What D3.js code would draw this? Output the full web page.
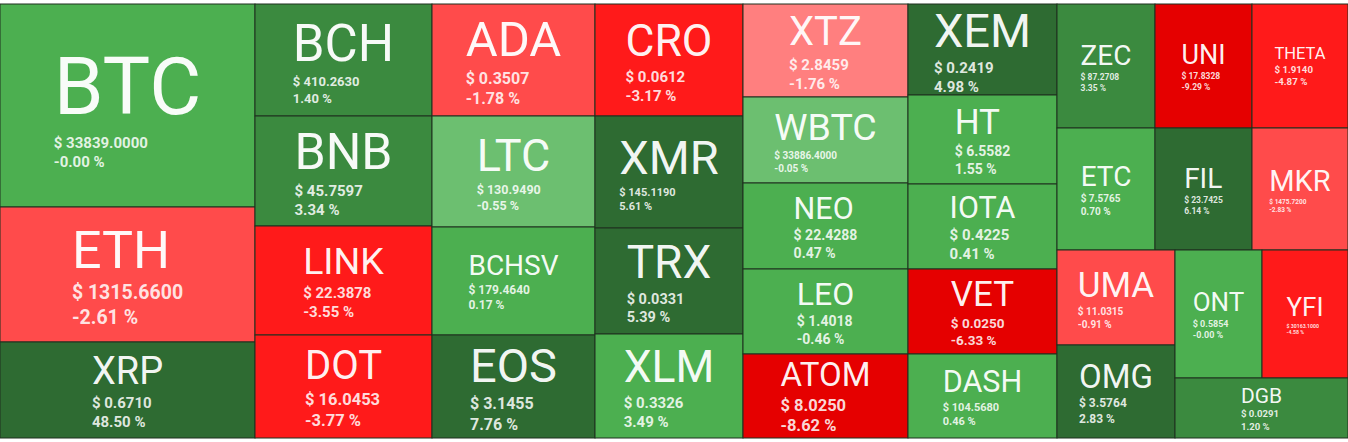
<!DOCTYPE html>
<html><head><meta charset="utf-8">
<script src="https://cdn.jsdelivr.net/npm/d3@7"></script>
<style>
html,body{margin:0;padding:0;background:#fff;}
svg{display:block;font-family:Roboto,"Noto Sans",sans-serif;}
</style>
</head><body>
<svg id="chart" width="1348" height="442"></svg>
<script>
// ---- data ----
const symbols = ["BTC","ETH","XRP","BCH","BNB","LINK","DOT","ADA","LTC","BCHSV","EOS","CRO","XMR","TRX","XLM",
  "XTZ","WBTC","NEO","LEO","ATOM","XEM","HT","IOTA","VET","DASH","ZEC","UNI","THETA","ETC","FIL","MKR","UMA","OMG","ONT","YFI","DGB"];
const prices = [33839.0, 1315.66, 0.6710, 410.2630, 45.7597, 22.3878, 16.0453, 0.3507, 130.9490, 179.4640, 3.1455, 0.0612, 145.1190, 0.0331, 0.3326,
  2.8459, 33886.4, 22.4288, 1.4018, 8.0250, 0.2419, 6.5582, 0.4225, 0.0250, 104.5680, 87.2708, 17.8328, 1.9140, 7.5765, 23.7425, 1475.72, 11.0315, 3.5764, 0.5854, 30163.1, 0.0291];
const changes = [-0.004, -2.61, 48.50, 1.40, 3.34, -3.55, -3.77, -1.78, -0.55, 0.17, 7.76, -3.17, 5.61, 5.39, 3.49,
  -1.76, -0.05, 0.47, -0.46, -8.62, 4.98, 1.55, 0.41, -6.33, 0.46, 3.35, -9.29, -4.87, 0.70, 6.14, -2.83, -0.91, 2.83, -0.004, -4.58, 1.20];
const tones = ["g1","r1","g3","g2","g2","r2","r2","r1","g0","g1","g3","r2","g3","g3","g1",
  "r0","g0","g1","g1","r3","g3","g1","g1","r3","g1","g2","r3","r2","g1","g3","r1","r1","g3","g1","r2","g2"];
// tile weights (relative areas)
const weights = [51765, 34425, 24480, 19824, 19470, 19293, 18231, 18256, 18093, 17604, 16789, 16576, 16576, 15688, 15392,
  15345, 14190, 14190, 14025, 13860, 13559, 13261, 12665, 12665, 12516, 12152, 12028, 11904, 11956, 11834, 11712, 11210, 10974, 11136, 11008, 10380];
// nesting of the tiles (columns, then rows, alternating)
const groups = [
  ["BTC","ETH","XRP"],
  ["BCH","BNB","LINK","DOT"],
  ["ADA","LTC","BCHSV","EOS"],
  ["CRO","XMR","TRX","XLM"],
  ["XTZ","WBTC","NEO","LEO","ATOM"],
  ["XEM","HT","IOTA","VET","DASH"],
  [["ZEC","UNI","THETA"],["ETC","FIL","MKR"],[["UMA","OMG"],[["ONT","YFI"],"DGB"]]]
];

// ---- styles ----
const toneColor = d3.scaleOrdinal()
  .domain(["g3","g2","g1","g0","r0","r1","r2","r3"])
  .range(["#2e6b32","#3b8a3f","#4caf50","#6cbf70","#ff7f7f","#ff4b4b","#ff1a1a","#e50000"]);
// [symbol font size, detail font size]
const labelSizes = {
  BTC:[80,15], ETH:[52,19.5], XRP:[38,15], BCH:[51,13], BNB:[50,15], LINK:[37.5,15], DOT:[40,16.5],
  ADA:[49,16], LTC:[45,12.5], BCHSV:[28,12], EOS:[47,16], CRO:[44.5,15], XMR:[47,11], TRX:[46,14.5], XLM:[44.5,15],
  XTZ:[40,15], WBTC:[37.5,10], NEO:[30.5,14], LEO:[32,14], ATOM:[33,16.5], XEM:[47,15], HT:[35,14], IOTA:[30.5,15],
  VET:[35,13.5], DASH:[30.5,11], ZEC:[28,8.5], UNI:[27,8.5], THETA:[16.5,9.7], ETC:[28,10], FIL:[28,8.5], MKR:[29,6.5],
  UMA:[35,10], OMG:[33,12], ONT:[26,9], YFI:[26,5.2], DGB:[21,9.6]
};

const chartW = 1348, chartH = 434, marginTop = 4;
const svg = d3.select("#chart");

function build(item) {
  if (typeof item === "string") {
    const i = symbols.indexOf(item);
    return { name: item, i: i, value: weights[i] };
  }
  return { children: item.map(build) };
}
const root = d3.hierarchy({ children: groups.map(build) })
  .sum(d => d.children ? 0 : d.value);
d3.treemap().tile(d3.treemapSliceDice).size([chartW, chartH]).round(false)(root);

const g = svg.append("g").attr("transform", `translate(0,${marginTop})`);
const leaves = root.leaves();

const cell = g.selectAll("g.cell").data(leaves).join("g").attr("class", "cell");
cell.append("rect")
  .attr("x", d => d.x0).attr("y", d => d.y0)
  .attr("width", d => d.x1 - d.x0).attr("height", d => d.y1 - d.y0)
  .attr("fill", d => toneColor(tones[d.data.i]))
  .attr("stroke", "#1f301f").attr("stroke-width", 1);

cell.each(function(d) {
  const sel = d3.select(this);
  const i = d.data.i;
  const [S, P] = labelSizes[d.data.name];
  const cx = (d.x0 + d.x1) / 2, cy = (d.y0 + d.y1) / 2;
  const t1 = sel.append("text").text(symbols[i])
    .attr("font-size", S).attr("fill", "#fff").attr("fill-opacity", 0.96);
  const t2 = sel.append("text").text("$ " + prices[i].toFixed(4))
    .attr("font-size", P).attr("font-weight", 700).attr("fill", "#fff").attr("fill-opacity", 0.86);
  const t3 = sel.append("text").text(changes[i].toFixed(2) + " %")
    .attr("font-size", P).attr("font-weight", 700).attr("fill", "#fff").attr("fill-opacity", 0.86);
  const w = Math.max(t1.node().getComputedTextLength(), t2.node().getComputedTextLength(), t3.node().getComputedTextLength());
  const left = cx - w / 2;
  const blockH = 1.172 * S + 2 * 1.27 * P;
  const y0 = cy - blockH / 2;
  const b1 = y0 + 0.928 * S;
  const b2 = y0 + 1.172 * S + 0.977 * P;
  const b3 = b2 + 1.27 * P;
  t1.attr("x", left).attr("y", b1);
  t2.attr("x", left).attr("y", b2);
  t3.attr("x", left).attr("y", b3);
});
</script>
</body></html>
